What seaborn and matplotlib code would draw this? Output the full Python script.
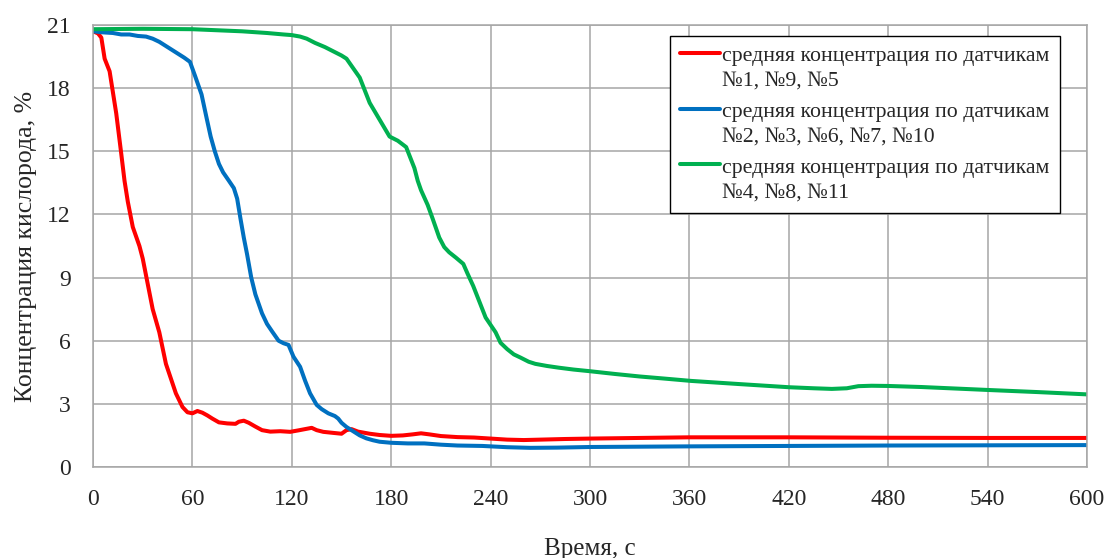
import numpy as np
import pandas as pd
import matplotlib
matplotlib.use("Agg")
import matplotlib.pyplot as plt
import seaborn as sns
from matplotlib.legend_handler import HandlerLine2D
from matplotlib.ticker import MultipleLocator

# данные: время, с -> концентрация O2, %
t_red = [0, 3, 5, 7, 10, 14, 17, 19, 21, 24, 28, 30, 32, 34, 36, 40, 44, 47, 50, 54,
         57, 60, 63, 66, 69, 72, 76, 81, 86, 88, 91, 94, 98, 102, 107, 113, 119, 124,
         128, 132, 135, 139, 145, 150, 153, 156, 160, 167, 173, 180, 187, 193, 198,
         203, 210, 220, 230, 240, 250, 260, 270, 285, 300, 330, 360, 420, 480, 540, 600]
c_red = [20.7, 20.6, 20.4, 19.4, 18.8, 16.8, 14.9, 13.6, 12.6, 11.4, 10.5, 9.9, 9.1,
         8.3, 7.5, 6.4, 4.9, 4.2, 3.5, 2.85, 2.6, 2.55, 2.66, 2.58, 2.45, 2.3, 2.12,
         2.07, 2.05, 2.15, 2.2, 2.1, 1.92, 1.75, 1.68, 1.7, 1.67, 1.74, 1.8, 1.86, 1.75,
         1.67, 1.62, 1.58, 1.75, 1.8, 1.68, 1.58, 1.52, 1.48, 1.5, 1.55, 1.6, 1.55,
         1.47, 1.42, 1.4, 1.35, 1.3, 1.28, 1.3, 1.33, 1.35, 1.38, 1.41, 1.41, 1.39,
         1.38, 1.38]

t_blue = [0, 6, 12, 17, 22, 27, 32, 36, 40, 45, 50, 55, 58.5, 61.5, 65.5, 68.5, 71,
          73.5, 76, 78.5, 82, 85, 87, 89, 91, 93, 95.5, 98, 102, 105, 108, 112, 115,
          118, 121, 125, 128, 131, 135, 138, 142, 146, 148, 150, 153, 157, 161, 165,
          169, 173, 180, 190, 200, 210, 220, 235, 250, 264, 280, 300, 360, 420, 480,
          540, 600]
c_blue = [20.7, 20.65, 20.62, 20.55, 20.55, 20.48, 20.45, 20.35, 20.2, 19.95, 19.7,
          19.45, 19.25, 18.6, 17.7, 16.6, 15.7, 15.0, 14.4, 14.0, 13.6, 13.25, 12.75,
          11.8, 10.9, 10.1, 9.0, 8.2, 7.3, 6.8, 6.45, 6.0, 5.88, 5.8, 5.24, 4.76, 4.1,
          3.5, 2.95, 2.75, 2.55, 2.42, 2.3, 2.1, 1.9, 1.7, 1.5, 1.36, 1.27, 1.2, 1.15,
          1.12, 1.12, 1.06, 1.02, 1.0, 0.94, 0.91, 0.92, 0.95, 0.98, 1.0, 1.02, 1.03,
          1.04]

t_green = [0, 30, 60, 75, 90, 105, 115, 120, 125, 129, 134, 140, 145, 150, 153, 157,
           161, 164, 167, 170, 173, 176, 179, 184, 189, 191, 194, 196, 198, 202, 205,
           209, 212, 215, 219, 223.5, 226, 229.5, 233, 237, 240, 243, 246, 250, 254,
           258, 263, 267, 274, 281, 290, 300, 315, 330, 345, 361, 390, 420, 435, 446,
           455, 462, 470, 480, 500, 520, 540, 570, 600]
c_green = [20.8, 20.82, 20.8, 20.75, 20.7, 20.62, 20.55, 20.52, 20.45, 20.35, 20.15,
           19.95, 19.75, 19.55, 19.4, 18.95, 18.5, 17.9, 17.3, 16.9, 16.5, 16.1, 15.7,
           15.5, 15.2, 14.8, 14.2, 13.6, 13.15, 12.45, 11.8, 10.9, 10.45, 10.2, 9.95,
           9.65, 9.2, 8.6, 7.9, 7.1, 6.75, 6.4, 5.9, 5.6, 5.35, 5.2, 5.0, 4.9, 4.8,
           4.72, 4.63, 4.55, 4.42, 4.3, 4.2, 4.09, 3.94, 3.79, 3.74, 3.71, 3.74, 3.84,
           3.86, 3.85, 3.8, 3.73, 3.66, 3.56, 3.45]

labels = [
    "средняя концентрация по датчикам\n№1, №9, №5",
    "средняя концентрация по датчикам\n№2, №3, №6, №7, №10",
    "средняя концентрация по датчикам\n№4, №8, №11",
]
colors = ["#FF0000", "#0070C0", "#00B050"]

df = pd.concat([
    pd.DataFrame({"t": t_red, "c": c_red, "group": labels[0]}),
    pd.DataFrame({"t": t_blue, "c": c_blue, "group": labels[1]}),
    pd.DataFrame({"t": t_green, "c": c_green, "group": labels[2]}),
])


class FirstLineHandler(HandlerLine2D):
    # линия легенды напротив первой строки подписи, как в Excel
    def create_artists(self, legend, orig_handle, xdescent, ydescent,
                       width, height, fontsize, trans):
        arts = super().create_artists(legend, orig_handle, xdescent, ydescent,
                                      width, height, fontsize, trans)
        for a in arts:
            a.set_ydata(np.asarray(a.get_ydata()) + 0.7 * fontsize)
        return arts


sns.set_style("white")
plt.rcParams["font.family"] = ["Liberation Serif", "DejaVu Serif"]
grid_col = "#a6a6a6"

fig = plt.figure(figsize=(11.05, 5.58), dpi=100)
ax = fig.add_axes([0.0842, 0.1631, 0.8995, 0.7921])

sns.lineplot(data=df, x="t", y="c", hue="group", palette=colors, linewidth=2.9,
             sort=False, estimator=None, ax=ax)

ax.set_xlim(0, 600)
ax.set_ylim(0, 21)
ax.xaxis.set_major_locator(MultipleLocator(60))
ax.xaxis.set_minor_locator(MultipleLocator(20))
ax.yaxis.set_major_locator(MultipleLocator(3))
ax.grid(True, which="major", color=grid_col, linewidth=1.1)
ax.set_axisbelow(True)
for s in ax.spines.values():
    s.set_color(grid_col)
    s.set_linewidth(1.1)

ax.tick_params(axis="x", which="both", direction="out", length=4, width=1.1,
               color=grid_col, labelsize=17, pad=12)
ax.tick_params(axis="y", length=0, labelsize=17, pad=16)

ax.set_xlabel("Время, с", fontsize=18, labelpad=20)
ax.set_ylabel("Концентрация кислорода, %", fontsize=18.5, labelpad=7)

handles, labs = ax.get_legend_handles_labels()
leg = ax.legend(handles, labs, loc="upper right", bbox_to_anchor=(0.973, 0.975),
                borderaxespad=0, fontsize=15.7, frameon=True, fancybox=False,
                framealpha=1, edgecolor="black", handlelength=1.8, handletextpad=0.1,
                labelspacing=0.56, borderpad=0.5,
                handler_map={type(handles[0]): FirstLineHandler()})
for txt in leg.get_texts():
    txt.set_linespacing(1.4)
leg.get_frame().set_linewidth(1.0)

fig.savefig("out.png", dpi=100)
